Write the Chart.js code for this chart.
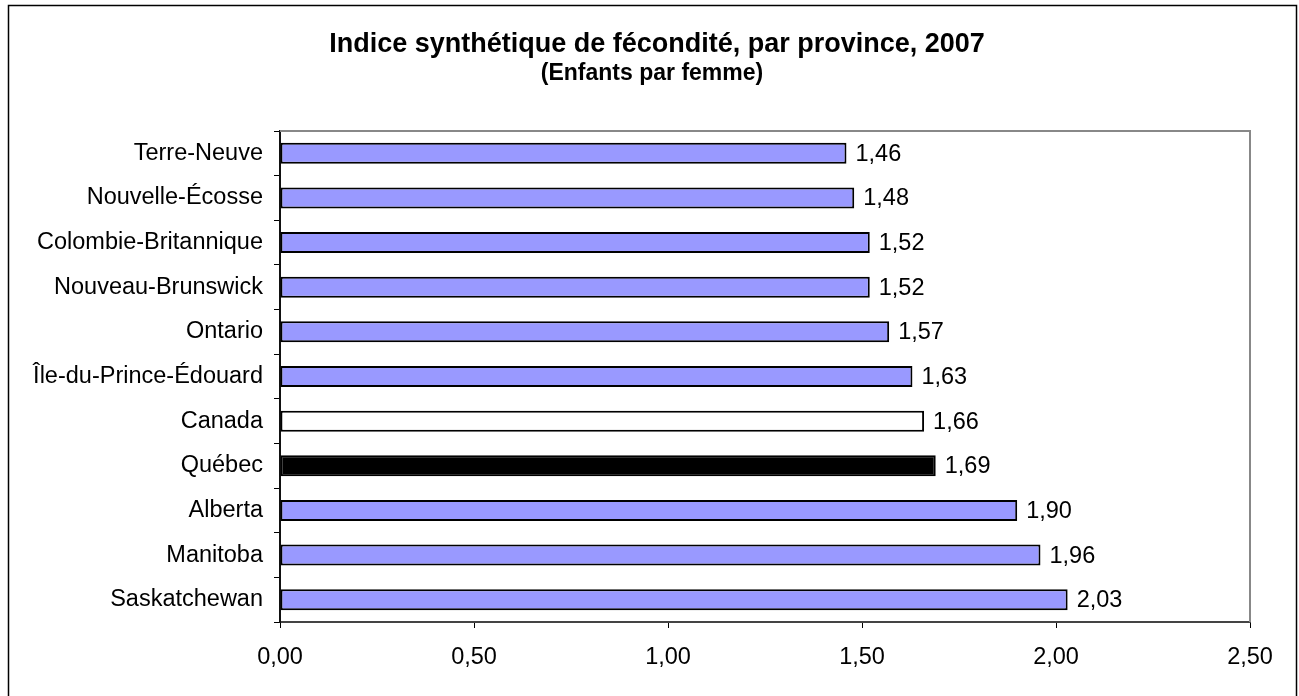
<!DOCTYPE html>
<html>
<head>
<meta charset="utf-8">
<script src="https://cdn.jsdelivr.net/npm/chart.js@4"></script>
<style>
    html, body { margin: 0; padding: 0; background: #fff; }
    #wrap { width: 1299px; height: 696px; }
</style>
</head>
<body>
<div id="wrap"><canvas id="fertility"></canvas></div>
<script>
// Data
const provinces = ['Terre-Neuve', 'Nouvelle-Écosse', 'Colombie-Britannique', 'Nouveau-Brunswick', 'Ontario',
    'Île-du-Prince-Édouard', 'Canada', 'Québec', 'Alberta', 'Manitoba', 'Saskatchewan'];
const fertilityRate = [1.46, 1.48, 1.52, 1.52, 1.57, 1.63, 1.66, 1.69, 1.90, 1.96, 2.03];
const xTicks = [0, 0.5, 1, 1.5, 2, 2.5];
const titleText = 'Indice synthétique de fécondité, par province, 2007';
const subtitleText = '(Enfants par femme)';

const FONT = "'Liberation Sans', Arial, sans-serif";
const fmt = (v) => Number(v).toFixed(2).replace('.', ',');

const barColors = provinces.map(p => p === 'Québec' ? '#000000' : (p === 'Canada' ? '#FFFFFF' : '#9999FF'));

// titles, frame, plot border and value labels
const decorations = {
    id: 'decorations',
    afterDatasetsDraw(chart) {
        const { ctx, chartArea } = chart;
        ctx.save();
        // grey top/right border of the plot area
        ctx.strokeStyle = '#888888';
        ctx.lineWidth = 2;
        ctx.beginPath();
        ctx.moveTo(chartArea.left, chartArea.top);
        ctx.lineTo(chartArea.right, chartArea.top);
        ctx.lineTo(chartArea.right, chartArea.bottom);
        ctx.stroke();

        // value labels
        const meta = chart.getDatasetMeta(0);
        ctx.fillStyle = '#000';
        ctx.font = '23.5px ' + FONT;
        ctx.textAlign = 'left';
        ctx.textBaseline = 'middle';
        meta.data.forEach((bar, i) => {
            ctx.fillText(fmt(fertilityRate[i]), bar.x + 9, bar.y + 1);
        });
        ctx.restore();
    },
    afterDraw(chart) {
        const { ctx } = chart;
        ctx.save();
        ctx.fillStyle = '#000';
        ctx.textAlign = 'center';
        ctx.textBaseline = 'alphabetic';
        ctx.font = 'bold 27px ' + FONT;
        ctx.fillText(titleText, 657, 52);
        ctx.font = 'bold 23px ' + FONT;
        ctx.fillText(subtitleText, 652, 80);

        ctx.strokeStyle = '#000';
        ctx.lineWidth = 1.5;
        ctx.strokeRect(8.5, 5.5, 1288, 700);
        ctx.restore();
    }
};

new Chart(document.getElementById('fertility').getContext('2d'), {
    type: 'bar',
    data: {
        labels: provinces,
        datasets: [{
            data: fertilityRate,
            backgroundColor: barColors,
            borderColor: '#000',
            borderWidth: 2,
            borderSkipped: false,
            barPercentage: 0.47,
            categoryPercentage: 1
        }]
    },
    options: {
        indexAxis: 'y',
        responsive: true,
        maintainAspectRatio: false,
        animation: false,
        layout: {
            padding: { left: 0, right: 49, top: 131, bottom: 0 }
        },
        plugins: {
            legend: { display: false },
            tooltip: { enabled: false },
            title: { display: false }
        },
        scales: {
            x: {
                min: 0,
                max: 2.5,
                afterBuildTicks: (scale) => { scale.ticks = xTicks.map(v => ({ value: v })); },
                afterFit: (scale) => { scale.height = 74; },
                border: { display: true, color: '#444', width: 2 },
                grid: { drawOnChartArea: false, drawTicks: true, tickLength: 6, color: '#000' },
                ticks: {
                    padding: 15,
                    color: '#000',
                    maxRotation: 0,
                    font: { size: 23.5, family: FONT },
                    callback: (v) => fmt(v)
                }
            },
            y: {
                afterFit: (scale) => { scale.width = 280; },
                border: { display: true, color: '#111', width: 2 },
                grid: { offset: true, drawOnChartArea: false, drawTicks: true, tickLength: 6, color: '#000' },
                ticks: {
                    padding: 11,
                    color: '#000',
                    font: { size: 23.5, family: FONT }
                }
            }
        }
    },
    plugins: [decorations]
});
</script>
</body>
</html>
